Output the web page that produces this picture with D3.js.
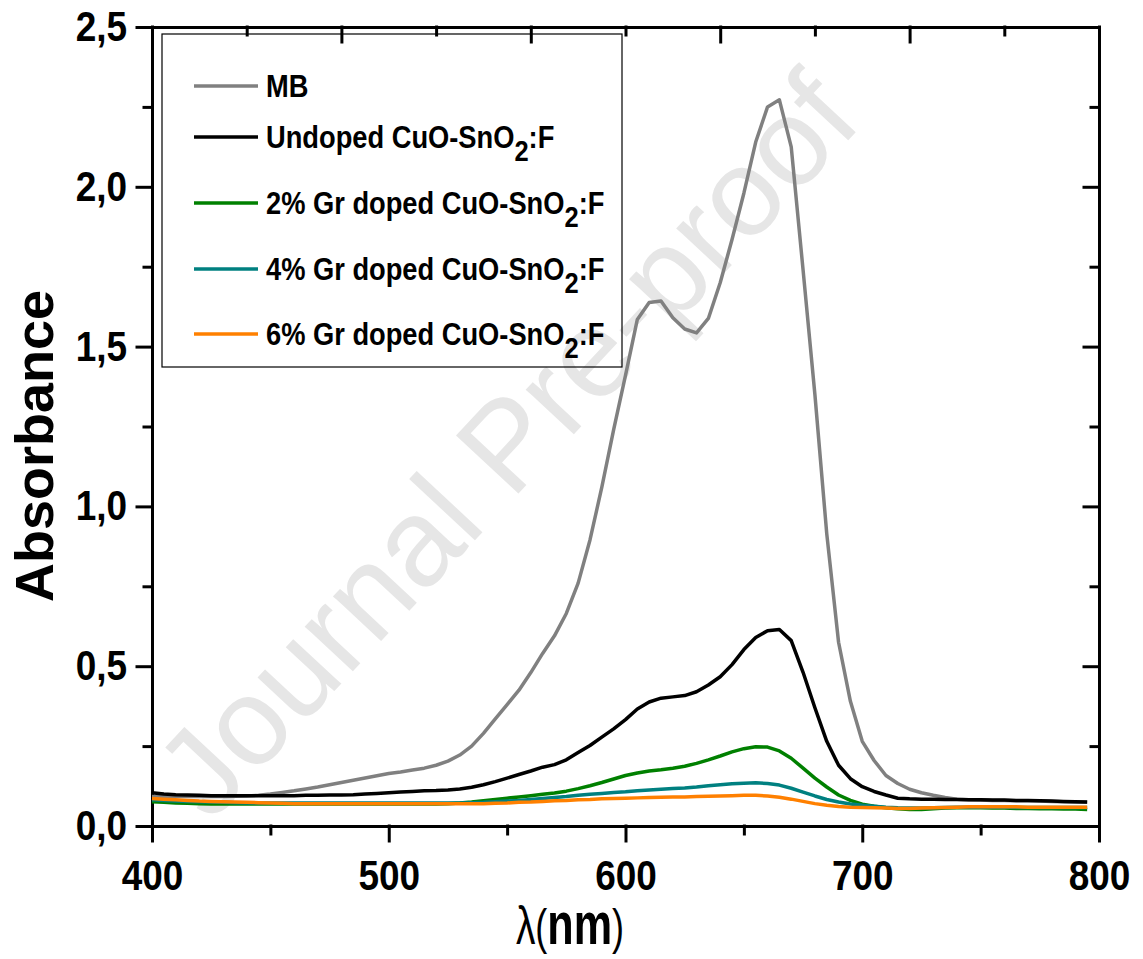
<!DOCTYPE html>
<html lang="en">
<head>
<meta charset="utf-8">
<title>Absorbance spectra</title>
<script src="https://d3js.org/d3.v7.min.js"></script>
<style>
    body{
        margin:0;
        background:#fff;
    }
    svg{display:block;}
    .axis path, .axis line{
        stroke:#000;
        stroke-width:3;
        stroke-linecap:square;
    }
    .axis text{
        font-family:"Liberation Sans", Arial, sans-serif;
        font-weight:bold;
        font-size:42px;
        fill:#000;
    }
    .curve{
        fill:none;
        stroke-width:3.5;
        stroke-linejoin:round;
    }
    .legend text{
        font-family:"Liberation Sans", Arial, sans-serif;
        font-weight:bold;
        font-size:31px;
        fill:#000;
    }
</style>
</head>
<body>
<div id="chart"></div>
<script>
// wavelength grid (nm)
var wavelengths = [
    400,405,410,415,420,425,430,435,440,445,
    450,455,460,465,470,475,480,485,490,495,
    500,505,510,515,520,525,530,535,540,545,
    550,555,560,565,570,575,580,585,590,595,
    600,605,610,615,620,625,630,635,640,645,
    650,655,660,665,670,675,680,685,690,695,
    700,705,710,715,720,725,730,735,740,745,
    750,755,760,765,770,775,780,785,790,795
]

var mbValues = [
    0.093,0.092,0.092,0.092,0.092,0.092,0.092,0.093,0.094,0.096,
    0.100,0.105,0.110,0.116,0.122,0.129,0.136,0.143,0.150,0.157,
    0.164,0.169,0.175,0.181,0.190,0.203,0.222,0.250,0.290,0.335,
    0.380,0.425,0.480,0.540,0.595,0.665,0.760,0.895,1.060,1.240,
    1.410,1.585,1.638,1.643,1.590,1.555,1.543,1.588,1.700,1.835,
    1.980,2.140,2.250,2.272,2.125,1.740,1.350,0.915,0.575,0.390,
    0.265,0.205,0.158,0.133,0.115,0.104,0.096,0.089,0.084,0.082,
    0.081,0.080,0.080,0.079,0.079,0.078,0.077,0.076,0.075,0.074
]

var undopedValues = [
    0.104,0.100,0.098,0.097,0.096,0.095,0.095,0.095,0.095,0.095,
    0.095,0.095,0.095,0.096,0.096,0.097,0.097,0.098,0.100,0.102,
    0.104,0.106,0.108,0.110,0.111,0.113,0.116,0.121,0.129,0.139,
    0.150,0.161,0.172,0.184,0.192,0.207,0.230,0.252,0.278,0.304,
    0.333,0.366,0.388,0.400,0.404,0.408,0.420,0.441,0.467,0.505,
    0.552,0.590,0.611,0.615,0.580,0.481,0.370,0.265,0.190,0.148,
    0.123,0.108,0.097,0.087,0.085,0.084,0.084,0.083,0.083,0.082,
    0.082,0.081,0.081,0.080,0.080,0.079,0.078,0.077,0.076,0.075
]

var gr2Values = [
    0.076,0.074,0.072,0.071,0.070,0.069,0.069,0.069,0.069,0.069,
    0.069,0.069,0.069,0.069,0.069,0.069,0.069,0.069,0.069,0.069,
    0.069,0.069,0.069,0.069,0.069,0.070,0.072,0.075,0.079,0.083,
    0.087,0.091,0.095,0.099,0.103,0.109,0.117,0.126,0.136,0.147,
    0.158,0.166,0.172,0.176,0.181,0.187,0.196,0.207,0.219,0.232,
    0.242,0.248,0.247,0.235,0.212,0.181,0.150,0.122,0.097,0.080,
    0.068,0.062,0.057,0.054,0.052,0.052,0.054,0.056,0.057,0.057,
    0.057,0.056,0.056,0.055,0.055,0.054,0.054,0.053,0.053,0.052
]

var gr4Values = [
    0.082,0.080,0.078,0.077,0.076,0.075,0.074,0.073,0.072,0.072,
    0.072,0.072,0.072,0.072,0.072,0.072,0.072,0.072,0.072,0.072,
    0.072,0.072,0.072,0.072,0.072,0.072,0.072,0.073,0.074,0.076,
    0.078,0.080,0.083,0.086,0.089,0.092,0.096,0.099,0.102,0.105,
    0.107,0.110,0.113,0.115,0.117,0.119,0.122,0.126,0.129,0.132,
    0.134,0.135,0.133,0.128,0.118,0.106,0.094,0.083,0.075,0.069,
    0.065,0.062,0.059,0.057,0.056,0.056,0.057,0.058,0.059,0.059,
    0.059,0.059,0.059,0.058,0.058,0.058,0.058,0.058,0.058,0.058
]

var gr6Values = [
    0.086,0.084,0.082,0.080,0.078,0.077,0.076,0.075,0.074,0.073,
    0.072,0.071,0.070,0.070,0.070,0.070,0.070,0.070,0.070,0.070,
    0.070,0.070,0.070,0.070,0.070,0.070,0.070,0.070,0.070,0.071,
    0.072,0.074,0.075,0.077,0.079,0.080,0.082,0.083,0.085,0.086,
    0.087,0.088,0.089,0.090,0.091,0.091,0.092,0.093,0.094,0.095,
    0.096,0.096,0.094,0.090,0.084,0.077,0.070,0.065,0.061,0.059,
    0.058,0.057,0.056,0.055,0.055,0.056,0.057,0.058,0.059,0.060,
    0.060,0.060,0.060,0.060,0.059,0.059,0.059,0.059,0.059,0.059
]

var seriesNames = ["MB","Undoped CuO-SnO2:F","2% Gr doped CuO-SnO2:F","4% Gr doped CuO-SnO2:F","6% Gr doped CuO-SnO2:F"]
var seriesColors = ["#808080","#000000","#008000","#008080","#ff8000"]
var seriesValues = [mbValues, undopedValues, gr2Values, gr4Values, gr6Values]

var xMajorTicks = [400,500,600,700,800]
var xMinorTicks = [450,550,650,750]
var topMajorTicks = [400,480,560,640,720,800]
var topMinorTicks = [440,520,600,680,760]
var yMajorTicks = [0,0.5,1,1.5,2,2.5]
var yMinorTicks = [0.25,0.75,1.25,1.75,2.25]

var W = 1143, H = 959
var plotL = 152, plotR = 1099, plotT = 27, plotB = 826
var squeeze = 0.88

var svg = d3.select("#chart").append("svg").attr("width",W).attr("height",H)

var x = d3.scaleLinear().domain([400,800]).range([plotL,plotR])
var y = d3.scaleLinear().domain([0,2.5]).range([plotB,plotT])

// watermark
svg.append("text")
    .text("Journal Pre-proof")
    .attr("transform","translate(506,444) rotate(-47)")
    .attr("text-anchor","middle")
    .attr("dominant-baseline","central")
    .style("font-family","'Liberation Sans', Arial, sans-serif")
    .style("font-size","124px")
    .style("fill","#e6e6e6")

function comma(d){ return d3.format(".1f")(d).replace(".",",") }

// bottom axis
var gb = svg.append("g").attr("class","axis").attr("transform","translate(0,"+plotB+")")
    .call(d3.axisBottom(x).tickValues(xMajorTicks).tickSizeInner(15).tickSizeOuter(0).tickFormat(d3.format("d")))
gb.selectAll("text").attr("y",64).attr("dy",0).attr("transform","scale("+squeeze+",1)")
svg.append("g").attr("class","axis").attr("transform","translate(0,"+plotB+")")
    .call(d3.axisBottom(x).tickValues(xMinorTicks).tickSizeInner(8).tickSizeOuter(0).tickFormat(""))
    .select(".domain").remove()

// left axis
var gl = svg.append("g").attr("class","axis").attr("transform","translate("+plotL+",0)")
    .call(d3.axisLeft(y).tickValues(yMajorTicks).tickSizeInner(15).tickSizeOuter(0).tickFormat(comma))
gl.selectAll("text").attr("x",0).attr("dy","0.32em").attr("transform","translate(-25,0) scale("+squeeze+",1)")
svg.append("g").attr("class","axis").attr("transform","translate("+plotL+",0)")
    .call(d3.axisLeft(y).tickValues(yMinorTicks).tickSizeInner(8).tickSizeOuter(0).tickFormat(""))
    .select(".domain").remove()

// top axis (ticks point inward)
svg.append("g").attr("class","axis").attr("transform","translate(0,"+plotT+")")
    .call(d3.axisTop(x).tickValues(topMajorTicks).tickSizeInner(-15).tickSizeOuter(0).tickFormat(""))
svg.append("g").attr("class","axis").attr("transform","translate(0,"+plotT+")")
    .call(d3.axisTop(x).tickValues(topMinorTicks).tickSizeInner(-8).tickSizeOuter(0).tickFormat(""))
    .select(".domain").remove()

// right axis (ticks point inward)
svg.append("g").attr("class","axis").attr("transform","translate("+plotR+",0)")
    .call(d3.axisRight(y).tickValues(yMajorTicks).tickSizeInner(-15).tickSizeOuter(0).tickFormat(""))
svg.append("g").attr("class","axis").attr("transform","translate("+plotR+",0)")
    .call(d3.axisRight(y).tickValues(yMinorTicks).tickSizeInner(-8).tickSizeOuter(0).tickFormat(""))
    .select(".domain").remove()

// curves
var line = d3.line()
    .x(function(d,i){ return x(wavelengths[i]) })
    .y(function(d){ return y(d) })

seriesValues.forEach(function(vals,k){
    svg.append("path")
        .attr("class","curve")
        .attr("d",line(vals))
        .attr("stroke",seriesColors[k])
})

// legend
var legend = svg.append("g").attr("class","legend")
legend.append("rect")
    .attr("x",162).attr("y",34).attr("width",460).attr("height",333)
    .attr("fill","none").attr("stroke","#000").attr("stroke-width",1.2)

var rowY = [86,137,203,269,334]
seriesNames.forEach(function(name,k){
    legend.append("line")
        .attr("x1",194).attr("x2",258)
        .attr("y1",rowY[k]).attr("y2",rowY[k])
        .attr("stroke",seriesColors[k]).attr("stroke-width",3.5)
    var t = legend.append("g")
        .attr("transform","translate(266,"+(rowY[k]+11)+") scale("+squeeze+",1)")
        .append("text")
    var parts = name.split("SnO2")
    if(parts.length>1){
        t.append("tspan").text(parts[0]+"SnO")
        t.append("tspan").text("2").attr("dy",13).style("font-size","29px")
        t.append("tspan").text(parts[1]).attr("dy",-13)
    } else {
        t.text(name)
    }
})

// axis titles
svg.append("text")
    .text("Absorbance")
    .attr("transform","translate(53,446) rotate(-90)")
    .attr("text-anchor","middle")
    .style("font-family","'Liberation Sans', Arial, sans-serif")
    .style("font-weight","bold")
    .style("font-size","54px")

var xt = svg.append("g")
    .attr("transform","translate(570,944) scale(0.72,1)")
    .append("text")
    .attr("text-anchor","middle")
    .style("font-family","'Liberation Sans', Arial, sans-serif")
    .style("font-size","60px")
xt.append("tspan").text("λ").style("font-size","54px")
xt.append("tspan").text("(").style("font-size","50px")
xt.append("tspan").text("nm").style("font-weight","bold")
xt.append("tspan").text(")").style("font-size","50px")
</script>
</body>
</html>
